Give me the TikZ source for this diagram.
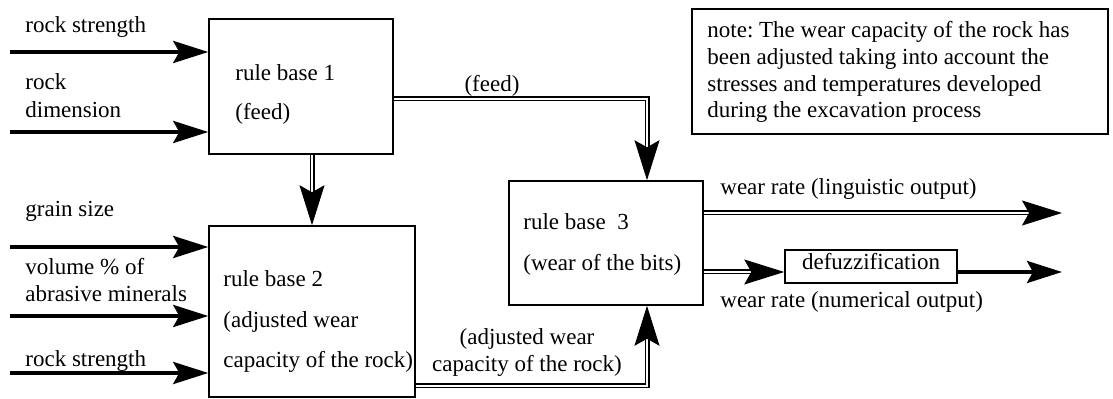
\documentclass[tikz,border=0pt]{standalone}
\usepackage{fontspec}
\setmainfont{Liberation Serif}
\usetikzlibrary{arrows.meta,calc}
\frenchspacing

\tikzset{
  txt/.style={inner sep=0pt, anchor=base west, font=\fontsize{11.5}{13}\selectfont},
  ctxt/.style={inner sep=0pt, anchor=base, align=center, font=\fontsize{11.5}{13.5}\selectfont},
  box/.style={draw, line width=0.75pt, inner sep=0pt},
  tipin/.style={-{Stealth[length=17.5pt,width=11pt,inset=3pt]}},
  tipbig/.style={-{Stealth[length=20pt,width=12.5pt,inset=3.5pt]}},
  inarrow/.style={line width=2pt, tipin},
  dbl/.style={line width=0.6pt, double=white, double distance=1.3pt, tipbig},
}

\begin{document}
\begin{tikzpicture}[x=0.5pt, y=-0.5pt]
\useasboundingbox (0,0) rectangle (1113,399);

% boxes
\node[box, minimum width=92pt,  minimum height=67.5pt] (b1) at (301,86.5) {};
\node[box, minimum width=103pt, minimum height=85.5pt] (b2) at (312,311.5) {};
\node[box, minimum width=97pt,  minimum height=62pt]   (b3) at (606,243) {};
\node[box, minimum width=86pt,  minimum height=16.5pt] (df) at (871,266.5) {};
\node[box, minimum width=208pt, minimum height=62.5pt] (nt) at (900,71.5) {};

% box texts
\node[txt] (t1a) at (235,81)  {rule base 1};
\node[txt] (t1b) at (235,120) {(feed)};
\node[txt] (t2a) at (223,287) {rule base 2};
\node[txt] (t2b) at (223,328) {(adjusted wear};
\node[txt] (t2c) at (223,368) {capacity of the rock)};
\node[txt] (t3a) at (523,230) {rule base\ \ 3};
\node[txt] (t3b) at (523,271) {(wear of the bits)};
\node[ctxt] (tdf) at (871,270) {defuzzification};

% note
\node[txt] (n1) at (707,38)  {note: The wear capacity of the rock has};
\node[txt] (n2) at (707,65)  {been adjusted taking into account the};
\node[txt] (n3) at (707,92)  {stresses and temperatures developed};
\node[txt] (n4) at (707,118) {during the excavation process};

% input labels
\node[txt] (l1)  at (25,33)  {rock strength};
\node[txt] (l2a) at (25,90)  {rock};
\node[txt] (l2b) at (25,118) {dimension};
\node[txt] (l3)  at (25,217) {grain size};
\node[txt] (l4a) at (25,275) {volume \% of};
\node[txt] (l4b) at (25,302) {abrasive minerals};
\node[txt] (l5)  at (25,367) {rock strength};

% connector labels
\node[ctxt] (lf) at (492,92) {(feed)};
\node[ctxt] (la) at (527,372) {(adjusted wear\\capacity of the rock)};
\node[txt] (lo1) at (720,195) {wear rate (linguistic output)};
\node[txt] (lo2) at (720,308) {wear rate (numerical output)};

% input arrows
\coordinate (s1) at (10,52);
\coordinate (s2) at (10,132);
\coordinate (s3) at (10,247);
\coordinate (s4) at (10,316);
\coordinate (s5) at (10,373);
\draw[inarrow] (s1) -- (s1 -| b1.west);
\draw[inarrow] (s2) -- (s2 -| b1.west);
\draw[inarrow] (s3) -- (s3 -| b2.west);
\draw[inarrow] (s4) -- (s4 -| b2.west);
\draw[inarrow] (s5) -- (s5 -| b2.west);

% rule base 1 -> rule base 2
\coordinate (c12) at (312,0);
\draw[dbl] (c12 |- b1.south) -- (c12 |- b2.north);

% feed -> rule base 3
\coordinate (fk) at (647,99);
\draw[dbl] (fk -| b1.east) -- (fk) -- (fk |- b3.north);

% adjusted wear capacity -> rule base 3
\coordinate (ak) at (647,386);
\draw[dbl] (ak -| b2.east) -- (ak) -- (ak |- b3.south);

% outputs
\coordinate (o1) at (1062,213);
\coordinate (o2) at (1062,272);
\draw[dbl] (o1 -| b3.east) -- (o1);
\draw[dbl] (b3.east |- o2) -- (df.west |- o2);
\draw[inarrow] (df.east |- o2) -- (o2);
\end{tikzpicture}
\end{document}
